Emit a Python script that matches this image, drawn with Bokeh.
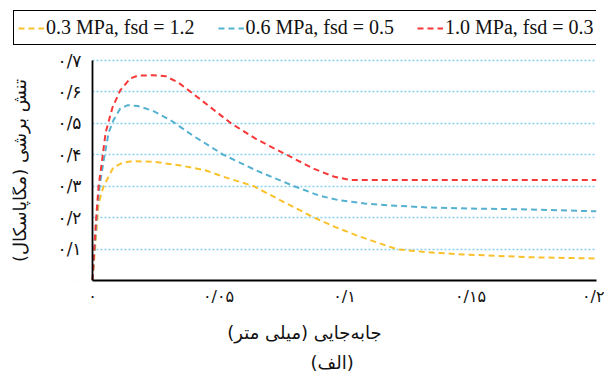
from bokeh.plotting import figure
from bokeh.models import FixedTicker, Legend, LegendItem, Title
from bokeh.embed import file_html
from bokeh.resources import INLINE

# ---- data ----
x_03 = [0, 0.001, 0.0024, 0.0044, 0.0083, 0.012, 0.016, 0.025, 0.035, 0.045, 0.052,
        0.064, 0.0746, 0.088, 0.0964, 0.105, 0.114, 0.121, 0.133, 0.147, 0.174, 0.2]
y_03 = [0, 0.10, 0.245, 0.30, 0.36, 0.375, 0.38, 0.377, 0.366, 0.35, 0.33,
        0.30, 0.255, 0.20, 0.17, 0.143, 0.118, 0.099, 0.09, 0.083, 0.074, 0.07]

x_06 = [0, 0.001, 0.002, 0.003, 0.0044, 0.0064, 0.0083, 0.011, 0.014, 0.018, 0.024,
        0.031, 0.040, 0.052, 0.065, 0.080, 0.090, 0.098, 0.108, 0.120, 0.134, 0.150,
        0.174, 0.2]
y_06 = [0, 0.12, 0.24, 0.31, 0.38, 0.47, 0.51, 0.547, 0.558, 0.555, 0.54,
        0.51, 0.46, 0.40, 0.35, 0.30, 0.27, 0.255, 0.245, 0.238, 0.232, 0.229,
        0.226, 0.22]

x_10 = [0, 0.0012, 0.0024, 0.0036, 0.0052, 0.0079, 0.011, 0.015, 0.018, 0.024, 0.029,
        0.034, 0.039, 0.047, 0.055, 0.065, 0.077, 0.088, 0.096, 0.102, 0.11, 0.13,
        0.15, 0.17, 0.2]
y_10 = [0, 0.17, 0.30, 0.37, 0.47, 0.55, 0.605, 0.643, 0.652, 0.653, 0.65,
        0.63, 0.60, 0.55, 0.50, 0.45, 0.40, 0.355, 0.33, 0.32, 0.32, 0.32,
        0.32, 0.32, 0.32]

series_labels = ["0.3 MPa, fsd = 1.2", "0.6 MPa, fsd = 0.5", "1.0 MPa, fsd = 0.3"]
series_colors = ["#f9c12c", "#55b1d0", "#f73838"]

x_ticks = [0, 0.05, 0.1, 0.15, 0.2]
x_tick_labels = ["۰", "۰/۰۵", "۰/۱", "۰/۱۵", "۰/۲"]
y_ticks = [0, 0.1, 0.2, 0.3, 0.4, 0.5, 0.6, 0.7]
y_tick_labels = ["۰", "۰/۱", "۰/۲", "۰/۳", "۰/۴", "۰/۵", "۰/۶", "۰/۷"]

# word order chosen so that the right-to-left layout shows it as in the source
x_title = "(میلی متر) جابه‌جایی"
y_title = "تنش برشی (مگاپاسکال)"
sub_title = "(الف)"

FA = "DejaVu Sans"

# frame: x 12..596 px, y 0..280 px ; data x 0..0.2 on 92..596, y 0..0.7 on 280..60
X_MIN = -80 / 2520.0
Y_MAX = 0.7 * 280 / 220.0

p = figure(width=604, height=378, output_backend="svg", toolbar_location=None,
           x_range=(X_MIN, 0.2), y_range=(0, Y_MAX),
           min_border_left=12, min_border_right=8, min_border_top=0,
           min_border_bottom=98)
p.outline_line_color = None

renderers = []
for xs, ys, c in zip([x_03, x_06, x_10], [y_03, y_06, y_10], series_colors):
    r = p.line(xs, ys, line_color=c, line_width=2, line_dash="6 4")
    renderers.append(r)

legend = Legend(items=[LegendItem(label=l, renderers=[r]) for l, r in zip(series_labels, renderers)],
                orientation="horizontal", location=(1, 235), margin=0,
                padding=4, spacing=23, glyph_width=26, glyph_height=24,
                label_height=25, label_standoff=2,
                label_text_font="Liberation Serif", label_text_font_size="20px",
                label_text_color="#111111",
                border_line_color="black", border_line_alpha=1.0, border_line_width=1.4,
                background_fill_color="white", background_fill_alpha=1)
p.add_layout(legend, "center")

p.xgrid.visible = False
p.ygrid.grid_line_color = "#86d0ee"
p.ygrid.grid_line_dash = "2 2"
p.ygrid.grid_line_width = 1.5
p.ygrid.ticker = FixedTicker(ticks=y_ticks[1:])
p.ygrid.cross_bounds = (0, 0.2)

for ax in (p.xaxis[0], p.yaxis[0]):
    ax.axis_line_color = "black"
    ax.axis_line_width = 1.8
    ax.major_tick_line_color = None
    ax.minor_tick_line_color = None
    ax.major_label_text_font = FA
    ax.major_label_text_color = "#111111"
    ax.axis_label_text_font = FA
    ax.axis_label_text_font_style = "normal"
    ax.axis_label_text_font_size = "18px"
    ax.axis_label_text_color = "#111111"

p.xaxis.ticker = FixedTicker(ticks=x_ticks)
p.xaxis.bounds = (0, 0.2)
p.xaxis.major_label_overrides = {t: l for t, l in zip(x_ticks, x_tick_labels)}
p.xaxis.major_label_text_font_size = "16px"
p.xaxis.major_label_standoff = 0
p.xaxis.axis_label = x_title
p.xaxis.axis_label_standoff = 13

p.yaxis.ticker = FixedTicker(ticks=y_ticks)
p.yaxis.bounds = (0, 0.7)
p.yaxis.fixed_location = 0
p.yaxis.major_label_overrides = {t: l for t, l in zip(y_ticks, y_tick_labels)}
p.yaxis.major_label_text_font_size = "17px"
p.yaxis.major_label_standoff = 5
p.yaxis.axis_label = y_title
p.yaxis.axis_label_standoff = 25

t = Title(text=sub_title, align="left", offset=298, text_font=FA, text_font_size="18px",
          text_font_style="normal", text_color="#111111", standoff=8)
p.add_layout(t, "below")

open("out.html", "w").write(file_html(p, INLINE))
